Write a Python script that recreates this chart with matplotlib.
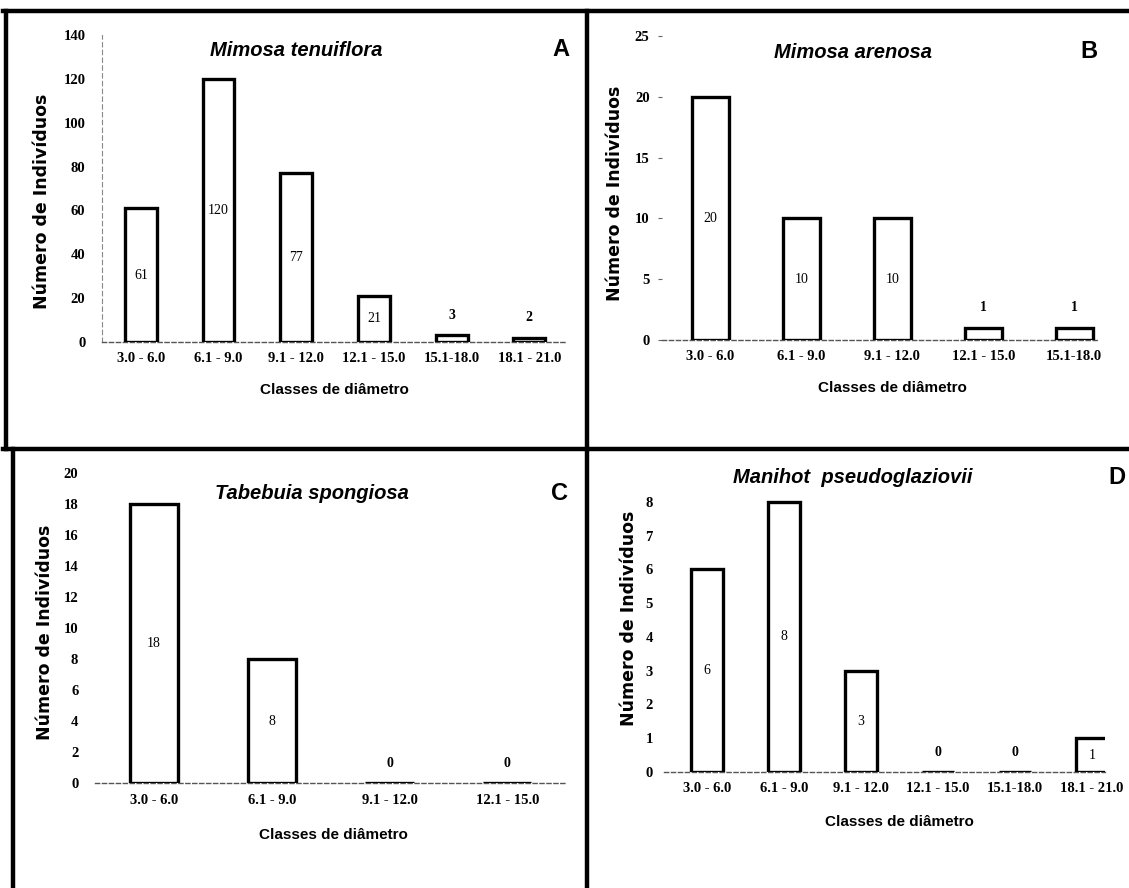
import matplotlib.pyplot as plt
from matplotlib.lines import Line2D

W, H = 1129, 888

# data
classes_a = ['3.0 - 6.0', '6.1 - 9.0', '9.1 - 12.0', '12.1 - 15.0', '15.1-18.0', '18.1 - 21.0']
counts_a = [61, 120, 77, 21, 3, 2]

classes_b = ['3.0 - 6.0', '6.1 - 9.0', '9.1 - 12.0', '12.1 - 15.0', '15.1-18.0']
counts_b = [20, 10, 10, 1, 1]

classes_c = ['3.0 - 6.0', '6.1 - 9.0', '9.1 - 12.0', '12.1 - 15.0']
counts_c = [18, 8, 0, 0]

classes_d = ['3.0 - 6.0', '6.1 - 9.0', '9.1 - 12.0', '12.1 - 15.0', '15.1-18.0', '18.1 - 21.0']
counts_d = [6, 8, 3, 0, 0, 1]

fig = plt.figure(figsize=(W / 100, H / 100), dpi=100)


def fx(x):
    return x / W


def fy(y):
    return 1 - y / H


def panel(left, right, top, bottom, classes, counts, ymax, yticks, xlim,
          title, letter, title_xy, letter_xy, xlabel_xy, ylabel_xy,
          ypad, xpad, spine='none'):
    ax = fig.add_axes([fx(left), fy(bottom), (right - left) / W, (bottom - top) / H])
    x = list(range(len(counts)))
    ax.bar(x, counts, width=0.41, color='white', edgecolor='black', linewidth=2.4, zorder=3)
    ax.set_xlim(*xlim)
    ax.set_ylim(0, ymax)
    ax.set_yticks(yticks)
    ax.set_xticks(x)
    ax.set_xticklabels(classes)
    for lab in ax.get_xticklabels() + ax.get_yticklabels():
        lab.set_fontfamily('Liberation Serif')
        lab.set_fontweight('bold')
        lab.set_fontsize(10.5)
    ax.tick_params(axis='x', length=0, pad=xpad)
    ax.tick_params(axis='y', length=3 if spine == 'ticks' else 0, pad=ypad, color='#666666')
    for s in ['top', 'right']:
        ax.spines[s].set_visible(False)
    ax.spines['bottom'].set_linestyle((0, (3, 2)))
    ax.spines['bottom'].set_color('#555555')
    ax.spines['bottom'].set_linewidth(1)
    if spine == 'line':
        ax.spines['left'].set_color('#888888')
        ax.spines['left'].set_linestyle((0, (4, 3)))
        ax.spines['left'].set_linewidth(0.8)
    else:
        ax.spines['left'].set_visible(False)

    # value labels: inside tall bars, above short ones
    px_per_unit = (bottom - top) / ymax
    for xi, v in zip(x, counts):
        if v * px_per_unit > 28:
            ax.text(xi, v / 2, str(v), ha='center', va='center', fontsize=10,
                    family='Liberation Serif', zorder=4)
        else:
            ax.annotate(str(v), (xi, v), xytext=(0, 20), textcoords='offset pixels',
                        ha='center', va='center', fontsize=10,
                        family='Liberation Serif', fontweight='bold', zorder=4)

    fig.text(fx(title_xy[0]), fy(title_xy[1]), title, ha='center', va='center',
             fontsize=14.5, style='italic', fontweight='bold', family='Liberation Sans')
    fig.text(fx(letter_xy[0]), fy(letter_xy[1]), letter, ha='center', va='center',
             fontsize=17, fontweight='bold', family='Liberation Sans')
    fig.text(fx(xlabel_xy[0]), fy(xlabel_xy[1]), 'Classes de diâmetro', ha='center',
             va='center', fontsize=11, fontweight='bold', family='Liberation Sans')
    fig.text(fx(ylabel_xy[0]), fy(ylabel_xy[1]), 'Número de Indivíduos', ha='center',
             va='center', rotation=90, fontsize=12.5, fontweight='bold', family='DejaVu Sans')
    return ax


panel(102, 565, 35, 342, classes_a, counts_a, 140, range(0, 141, 20), (-0.5, 5.46),
      'Mimosa tenuiflora', 'A', (296, 50), (561, 50), (334, 390), (42, 201),
      ypad=12, xpad=7, spine='line')

panel(662, 1098, 36, 340, classes_b, counts_b, 25, range(0, 26, 5), (-0.53, 4.26),
      'Mimosa arenosa', 'B', (853, 53), (1089, 51), (892, 388), (615, 193),
      ypad=6, xpad=7, spine='ticks')

panel(95, 565, 473, 783, classes_c, counts_c, 20, range(0, 21, 2), (-0.5, 3.49),
      'Tabebuia spongiosa', 'C', (312, 493), (559, 493), (333, 835), (45, 632),
      ypad=12, xpad=8)

panel(664, 1105, 468, 772, classes_d, counts_d, 9, range(0, 9), (-0.56, 5.17),
      'Manihot  pseudoglaziovii', 'D', (853, 477), (1117, 477), (899, 822), (629, 618),
      ypad=8, xpad=7)

# thick black frame lines between the panels
frame = [
    ((3, 1129), (11, 11)),
    ((3, 1129), (449, 449)),
    ((6, 6), (11, 449)),
    ((13, 13), (449, 888)),
    ((587, 587), (11, 888)),
]
for xs, ys in frame:
    fig.add_artist(Line2D([fx(v) for v in xs], [fy(v) for v in ys],
                          color='black', linewidth=3.2, transform=fig.transFigure))

fig.savefig('out.png', dpi=100)
